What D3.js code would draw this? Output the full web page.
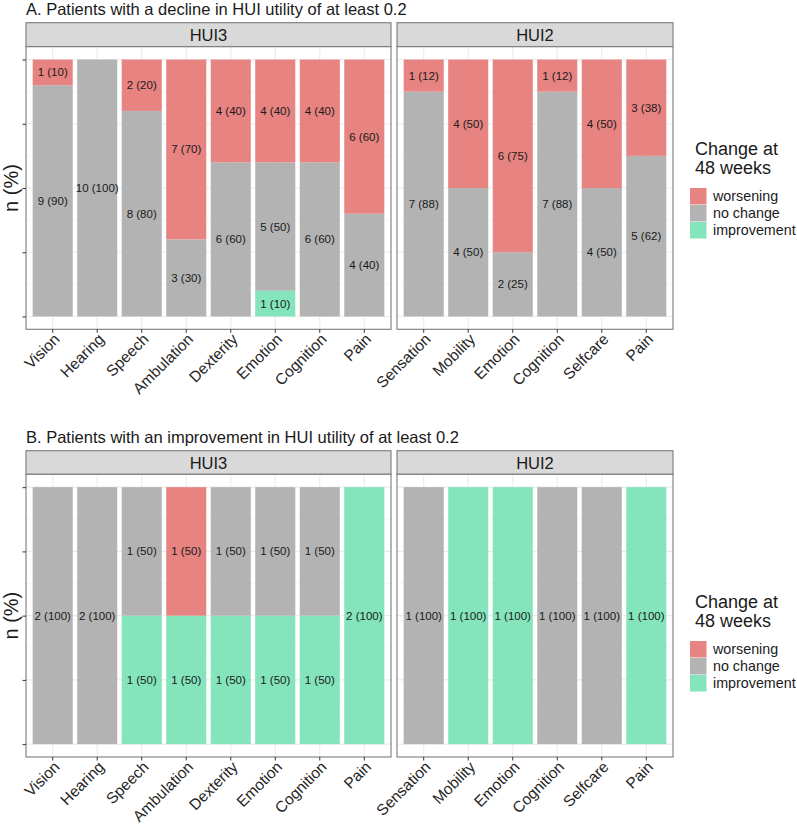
<!DOCTYPE html>
<html><head><meta charset="utf-8">
<script src="https://cdn.jsdelivr.net/npm/d3@7"></script>
<style>
body{margin:0;background:#fff;}
text{font-family:"Liberation Sans",Arial,sans-serif;}
</style></head>
<body><svg id="chart" width="797" height="829"></svg>
<script>
// ---------- data ----------
const hui3Categories = ["Vision","Hearing","Speech","Ambulation","Dexterity","Emotion","Cognition","Pain"];
const hui2Categories = ["Sensation","Mobility","Emotion","Cognition","Selfcare","Pain"];
const seriesNames = ["worsening","no change","improvement"];
const seriesColors = ["#E78381","#B3B3B3","#84E5BD"];
const panelTitles = ["A. Patients with a decline in HUI utility of at least 0.2",
                     "B. Patients with an improvement in HUI utility of at least 0.2"];
const legendTitle = ["Change at","48 weeks"];
const yTickValues = [0,0.25,0.5,0.75,1];

// Panel A (decline), HUI3: counts and percentages
const aHui3Worse  = [1,0,2,7,4,4,4,6];
const aHui3Same   = [9,10,8,3,6,5,6,4];
const aHui3Better = [0,0,0,0,0,1,0,0];
const aHui3WorsePct  = [10,0,20,70,40,40,40,60];
const aHui3SamePct   = [90,100,80,30,60,50,60,40];
const aHui3BetterPct = [0,0,0,0,0,10,0,0];
// Panel A, HUI2
const aHui2Worse  = [1,4,6,1,4,3];
const aHui2Same   = [7,4,2,7,4,5];
const aHui2Better = [0,0,0,0,0,0];
const aHui2WorsePct  = [12,50,75,12,50,38];
const aHui2SamePct   = [88,50,25,88,50,62];
const aHui2BetterPct = [0,0,0,0,0,0];
// Panel B (improvement), HUI3
const bHui3Worse  = [0,0,0,1,0,0,0,0];
const bHui3Same   = [2,2,1,0,1,1,1,0];
const bHui3Better = [0,0,1,1,1,1,1,2];
const bHui3WorsePct  = [0,0,0,50,0,0,0,0];
const bHui3SamePct   = [100,100,50,0,50,50,50,0];
const bHui3BetterPct = [0,0,50,50,50,50,50,100];
// Panel B, HUI2
const bHui2Worse  = [0,0,0,0,0,0];
const bHui2Same   = [1,0,0,1,1,0];
const bHui2Better = [0,1,1,0,0,1];
const bHui2WorsePct  = [0,0,0,0,0,0];
const bHui2SamePct   = [100,0,0,100,100,0];
const bHui2BetterPct = [0,100,100,0,0,100];

// ---------- layout ----------
const svg = d3.select("#chart");
const facets = [
  {name:"HUI3", cats:hui3Categories, x0:26, x1:391},
  {name:"HUI2", cats:hui2Categories, x0:397, x1:673}
];
const panels = [
  {title:panelTitles[0], titleY:19, stripTop:22.7, top:46.7, bottom:329.3, legendShift:0,
   data:[[aHui3Worse,aHui3Same,aHui3Better,aHui3WorsePct,aHui3SamePct,aHui3BetterPct],
         [aHui2Worse,aHui2Same,aHui2Better,aHui2WorsePct,aHui2SamePct,aHui2BetterPct]]},
  {title:panelTitles[1], titleY:447, stripTop:450.7, top:474.3, bottom:757, legendShift:453,
   data:[[bHui3Worse,bHui3Same,bHui3Better,bHui3WorsePct,bHui3SamePct,bHui3BetterPct],
         [bHui2Worse,bHui2Same,bHui2Better,bHui2WorsePct,bHui2SamePct,bHui2BetterPct]]}
];

panels.forEach(p => {
  svg.append("text").attr("x",26).attr("y",p.titleY-4.5)
    .attr("font-size",16.5).attr("fill","#1a1a1a").text(p.title);

  const y = d3.scaleLinear().domain([-0.05,1.05]).range([p.bottom,p.top]);

  facets.forEach((f,fi) => {
    const [worse,same,better,worsePct,samePct,betterPct] = p.data[fi];
    const x = d3.scaleBand().domain(f.cats).range([f.x0,f.x1]).paddingInner(0.1).paddingOuter(0.15);
    const g = svg.append("g");

    // strip
    g.append("rect").attr("x",f.x0).attr("y",p.stripTop).attr("width",f.x1-f.x0).attr("height",p.top-p.stripTop)
      .attr("fill","#D9D9D9").attr("stroke","#7a7a7a").attr("stroke-width",1.1);
    g.append("text").attr("x",(f.x0+f.x1)/2).attr("y",(p.stripTop+p.top)/2+6)
      .attr("text-anchor","middle").attr("font-size",16.5).attr("fill","#1a1a1a").text(f.name);

    // panel background & grid
    g.append("rect").attr("x",f.x0).attr("y",p.top).attr("width",f.x1-f.x0).attr("height",p.bottom-p.top).attr("fill","#fff");
    const minor = [0.125,0.375,0.625,0.875];
    g.selectAll(".minor").data(minor).join("line")
      .attr("x1",f.x0).attr("x2",f.x1).attr("y1",d=>y(d)).attr("y2",d=>y(d))
      .attr("stroke","#F0F0F0").attr("stroke-width",0.6);
    g.selectAll(".hmaj").data(yTickValues).join("line")
      .attr("x1",f.x0).attr("x2",f.x1).attr("y1",d=>y(d)).attr("y2",d=>y(d))
      .attr("stroke","#EBEBEB").attr("stroke-width",1.1);
    g.selectAll(".vmaj").data(f.cats).join("line")
      .attr("x1",d=>x(d)+x.bandwidth()/2).attr("x2",d=>x(d)+x.bandwidth()/2)
      .attr("y1",p.top).attr("y2",p.bottom)
      .attr("stroke","#EBEBEB").attr("stroke-width",1.1);

    // stacked bars
    f.cats.forEach((c,i) => {
      const total = worse[i]+same[i]+better[i];
      const segs = [
        {s:2, n:better[i], pct:betterPct[i]},
        {s:1, n:same[i], pct:samePct[i]},
        {s:0, n:worse[i], pct:worsePct[i]}
      ];
      let cum = 0;
      segs.forEach(sg => {
        if (sg.n === 0) return;
        const v0 = cum/total, v1 = (cum+sg.n)/total;
        cum += sg.n;
        g.append("rect").attr("x",x(c)).attr("width",x.bandwidth())
          .attr("y",y(v1)).attr("height",y(v0)-y(v1)).attr("fill",seriesColors[sg.s]);
        g.append("text").attr("x",x(c)+x.bandwidth()/2).attr("y",y((v0+v1)/2)+4)
          .attr("text-anchor","middle").attr("font-size",11.5).attr("fill","#1a1a1a")
          .text(`${sg.n} (${sg.pct})`);
      });
    });

    // border
    g.append("rect").attr("x",f.x0).attr("y",p.top).attr("width",f.x1-f.x0).attr("height",p.bottom-p.top)
      .attr("fill","none").attr("stroke","#7a7a7a").attr("stroke-width",1.1);

    // x axis
    const xa = g.append("g").attr("transform",`translate(0,${p.bottom})`)
      .call(d3.axisBottom(x).tickSize(3.5).tickSizeOuter(0));
    xa.select(".domain").remove();
    xa.selectAll(".tick line").attr("stroke","#333");
    xa.selectAll(".tick text")
      .attr("font-size",15.5).attr("fill","#262626")
      .attr("text-anchor","end").attr("dy",null).attr("y",null)
      .attr("transform","translate(0,3) rotate(-45)")
      .attr("dy","0.72em");

    if (fi === 0) {
      const ya = g.append("g").attr("transform",`translate(${f.x0},0)`)
        .call(d3.axisLeft(y).tickValues(yTickValues).tickFormat(()=>"").tickSize(3.5).tickSizeOuter(0));
      ya.select(".domain").remove();
      ya.selectAll(".tick line").attr("stroke","#333");
    }
  });

  // y label
  svg.append("text").attr("transform",`translate(18,${(p.top+p.bottom)/2}) rotate(-90)`)
    .attr("text-anchor","middle").attr("font-size",20).attr("fill","#1a1a1a").text("n (%)");

  // legend
  const lg = svg.append("g").attr("transform",`translate(0,${p.legendShift})`);
  lg.append("text").attr("x",695).attr("y",155).attr("font-size",18).attr("fill","#1a1a1a").text(legendTitle[0]);
  lg.append("text").attr("x",695).attr("y",173.5).attr("font-size",18).attr("fill","#1a1a1a").text(legendTitle[1]);
  seriesNames.forEach((s,i) => {
    lg.append("rect").attr("x",690).attr("y",188+i*17).attr("width",16.5).attr("height",16.5).attr("fill",seriesColors[i]);
    lg.append("text").attr("x",713).attr("y",188+i*17+13).attr("font-size",14.3).attr("fill","#1a1a1a").text(s);
  });
});
</script></body></html>
